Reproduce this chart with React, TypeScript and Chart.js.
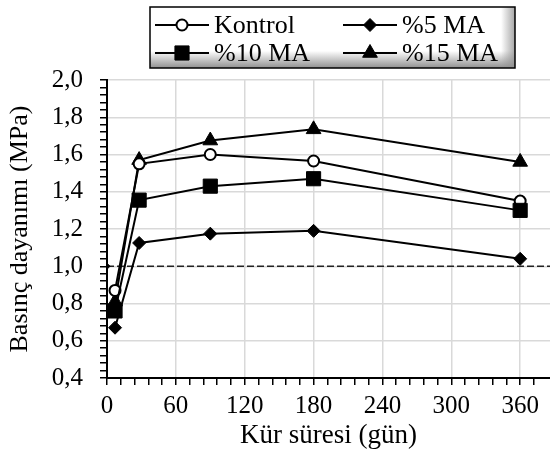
import React, { useEffect, useRef } from 'react';
import { Chart, registerables } from 'chart.js';

Chart.register(...registerables);

// ---- data ----
const curingDays = [7, 28, 90, 180, 360];
const kontrolValues = [0.87, 1.55, 1.6, 1.565, 1.35];
const ma5Values = [0.67, 1.125, 1.175, 1.19, 1.04];
const ma10Values = [0.76, 1.355, 1.43, 1.47, 1.3];
const ma15Values = [0.81, 1.57, 1.675, 1.735, 1.56];
const referenceDays = [0, 386];
const referenceValues = [1.0, 1.0];
const seriesNames = ['Kontrol', '%5 MA', '%10 MA', '%15 MA'];
const xTitle = 'Kür süresi (gün)';
const yTitle = 'Basınç dayanımı (MPa)';

const FONT = '"Liberation Serif", "Times New Roman", serif';

function toPoints(xs: number[], ys: number[]) {
  return xs.map((x, i) => ({ x, y: ys[i] }));
}

function drawMarker(ctx: CanvasRenderingContext2D, style: string, x: number, y: number, r: number, fill: string) {
  ctx.beginPath();
  if (style === 'circle') {
    ctx.arc(x, y, r, 0, Math.PI * 2);
  } else if (style === 'rect') {
    const s = r * Math.SQRT1_2;
    ctx.rect(x - s, y - s, 2 * s, 2 * s);
  } else if (style === 'rectRot') {
    ctx.moveTo(x - r, y);
    ctx.lineTo(x, y - r);
    ctx.lineTo(x + r, y);
    ctx.lineTo(x, y + r);
    ctx.closePath();
  } else if (style === 'triangle') {
    const h = r * Math.sin(Math.PI / 3);
    ctx.moveTo(x, y - r);
    ctx.lineTo(x + h, y + r / 2);
    ctx.lineTo(x - h, y + r / 2);
    ctx.closePath();
  }
  ctx.fillStyle = fill;
  ctx.fill();
  ctx.stroke();
}

const boxLegend = {
  id: 'boxLegend',
  afterDraw(chart: any) {
    const ctx: CanvasRenderingContext2D = chart.ctx;
    const bx = 150, by = 7, bw = 365, bh = 61;
    ctx.save();
    const g = ctx.createLinearGradient(0, by, 0, by + bh);
    g.addColorStop(0, '#ffffff');
    g.addColorStop(0.72, '#ffffff');
    g.addColorStop(1, '#909090');
    ctx.fillStyle = g;
    ctx.fillRect(bx, by, bw, bh);
    const g2 = ctx.createLinearGradient(bx + bw - 14, 0, bx + bw, 0);
    g2.addColorStop(0, 'rgba(144,144,144,0)');
    g2.addColorStop(1, 'rgba(144,144,144,0.8)');
    ctx.fillStyle = g2;
    ctx.fillRect(bx + bw - 14, by, 14, bh);
    ctx.strokeStyle = '#000';
    ctx.lineWidth = 1.5;
    ctx.strokeRect(bx, by, bw, bh);

    const colX = [155, 343];
    const rowY = [25, 53];
    const lineLen = 54;
    chart.data.datasets.slice(0, 4).forEach((ds: any, i: number) => {
      const cx = colX[i % 2];
      const cy = rowY[Math.floor(i / 2)];
      ctx.strokeStyle = '#000';
      ctx.lineWidth = 2;
      ctx.beginPath();
      ctx.moveTo(cx, cy);
      ctx.lineTo(cx + lineLen, cy);
      ctx.stroke();
      ctx.lineWidth = ds.pointStyle === 'circle' ? 2 : 1;
      drawMarker(ctx, ds.pointStyle, cx + lineLen / 2, cy, ds.pointRadius, ds.pointBackgroundColor);
      ctx.fillStyle = '#000';
      ctx.font = '26px ' + FONT;
      ctx.textBaseline = 'middle';
      ctx.textAlign = 'left';
      ctx.fillText(ds.label, cx + lineLen + 5, cy + 1);
    });
    ctx.restore();
  },
};

export default function App() {
  const ref = useRef<HTMLCanvasElement>(null);
  useEffect(() => {
    document.body.style.margin = '0';
    const isMultiple = (v: number, step: number) => Math.abs(v / step - Math.round(v / step)) < 1e-6;
    const chart = new Chart(ref.current!, {
      type: 'line',
      data: {
        datasets: [
          {
            label: seriesNames[0],
            data: toPoints(curingDays, kontrolValues),
            borderColor: '#000', borderWidth: 2,
            pointStyle: 'circle', pointRadius: 5.5,
            pointBackgroundColor: '#fff', pointBorderColor: '#000', pointBorderWidth: 2,
            order: 2,
          },
          {
            label: seriesNames[1],
            data: toPoints(curingDays, ma5Values),
            borderColor: '#000', borderWidth: 2,
            pointStyle: 'rectRot', pointRadius: 6.5,
            pointBackgroundColor: '#000', pointBorderColor: '#000', pointBorderWidth: 1,
            order: 4,
          },
          {
            label: seriesNames[2],
            data: toPoints(curingDays, ma10Values),
            borderColor: '#000', borderWidth: 2,
            pointStyle: 'rect', pointRadius: 10,
            pointBackgroundColor: '#000', pointBorderColor: '#000', pointBorderWidth: 1,
            order: 1,
          },
          {
            label: seriesNames[3],
            data: toPoints(curingDays, ma15Values),
            borderColor: '#000', borderWidth: 2,
            pointStyle: 'triangle', pointRadius: 8.5,
            pointBackgroundColor: '#000', pointBorderColor: '#000', pointBorderWidth: 1,
            order: 3,
          },
          {
            label: 'ref',
            data: toPoints(referenceDays, referenceValues),
            borderColor: '#222', borderWidth: 1.5, borderDash: [7, 3],
            pointStyle: 'rectRot', pointRadius: [3, 0],
            pointBackgroundColor: '#000', pointBorderColor: '#000', pointBorderWidth: 1,
            order: 5,
          },
        ],
      },
      options: {
        responsive: false,
        animation: false,
        devicePixelRatio: 1,
        layout: { autoPadding: false, padding: { top: 80, left: 0, right: 0, bottom: 0 } },
        plugins: { legend: { display: false }, tooltip: { enabled: false } },
        scales: {
          x: {
            type: 'linear',
            min: 0,
            max: 386,
            afterFit: (s: any) => { s.height = 76; s.paddingRight = 0; s.paddingLeft = 0; },
            afterBuildTicks: (s: any) => { s.ticks = s.ticks.filter((t: any) => isMultiple(t.value, 12)); },
            ticks: {
              stepSize: 12,
              autoSkip: false,
              maxRotation: 0,
              padding: 6,
              color: '#000',
              font: { family: FONT, size: 25 },
              callback: (v: any) => (isMultiple(Number(v), 60) ? String(Math.round(Number(v))) : ''),
            },
            grid: {
              color: (c: any) => (c.tick && isMultiple(c.tick.value, 60) ? '#d9d9d9' : 'rgba(0,0,0,0)'),
              lineWidth: 1.5,
              tickColor: '#000',
              tickLength: 7,
              tickWidth: 1.5,
            },
            border: { color: '#000', width: 2 },
            title: {
              display: true,
              text: xTitle,
              color: '#000',
              font: { family: FONT, size: 27 },
              padding: { top: 0, bottom: 2 },
            },
          },
          y: {
            type: 'linear',
            min: 0.4,
            max: 2.0,
            afterFit: (s: any) => { s.width = 107; },
            ticks: {
              stepSize: 0.04,
              autoSkip: false,
              maxTicksLimit: 100,
              padding: 17,
              color: '#000',
              font: { family: FONT, size: 25 },
              callback: (v: any) => (isMultiple(Number(v), 0.2) ? Number(v).toFixed(1).replace('.', ',') : ''),
            },
            grid: {
              color: (c: any) => (c.tick && isMultiple(c.tick.value, 0.2) ? '#d9d9d9' : 'rgba(0,0,0,0)'),
              lineWidth: 1.5,
              tickColor: '#000',
              tickLength: 7,
              tickWidth: 1.5,
            },
            border: { color: '#000', width: 2 },
            title: {
              display: true,
              text: yTitle,
              color: '#000',
              font: { family: FONT, size: 26 },
              padding: { top: 5, bottom: 0 },
            },
          },
        },
      },
      plugins: [boxLegend],
    } as any);
    return () => chart.destroy();
  }, []);
  return (
    <div style={{ width: 550, height: 454 }}>
      <canvas ref={ref} width={550} height={454} style={{ display: 'block' }} />
    </div>
  );
}
